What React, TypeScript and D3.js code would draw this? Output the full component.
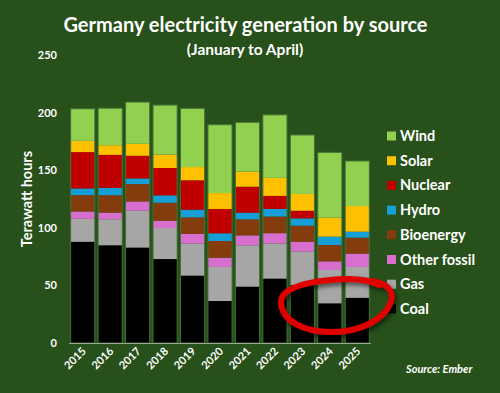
import React from 'react';
import * as d3 from 'd3';

const years = ['2015', '2016', '2017', '2018', '2019', '2020', '2021', '2022', '2023', '2024', '2025'];

// TWh, January to April, bottom of stack first
const coal = [88, 85, 83, 73, 58.6, 36.5, 49, 56, 50.5, 34.5, 39.3];
const gas = [20, 22.6, 32, 27, 27.8, 29.6, 35.9, 30.5, 28.9, 29, 26.8];
const otherFossil = [6.4, 5.8, 8.1, 6.4, 8.4, 8.1, 8.7, 9, 8.7, 7.5, 11.6];
const bioenergy = [14.2, 15.1, 15.1, 15.6, 14.5, 14.5, 13.9, 14.5, 13.9, 14.2, 13.9];
const hydro = [5.8, 6.4, 4.9, 6.4, 6.6, 6.7, 5.8, 6.6, 6.4, 7.3, 5.2];
const nuclear = [31.6, 28.7, 19.7, 23.8, 25.6, 21.1, 22.6, 11.3, 6.6, 0, 0];
const solar = [9.8, 8.4, 10.4, 11.6, 11.5, 13.9, 13.1, 15.7, 14.6, 16.5, 22.3];
const wind = [27.9, 32.2, 36.3, 43.1, 51.1, 59.4, 42.9, 54.8, 51.3, 56.8, 39.2];

const sources = ['Coal', 'Gas', 'Other fossil', 'Bioenergy', 'Hydro', 'Nuclear', 'Solar', 'Wind'];
const colors = ['#000000', '#a6a6a6', '#d86fcf', '#843c0c', '#159fd6', '#c00000', '#ffc000', '#92d050'];
const yTicks = [0, 50, 100, 150, 200, 250];

const W = 500;
const H = 393;
const bg = '#27501a';
const font = 'Lato, "Open Sans", sans-serif';

export default function App() {
  const series = [coal, gas, otherFossil, bioenergy, hydro, nuclear, solar, wind];
  const table = years.map((year, i) => {
    const row: Record<string, any> = { year };
    sources.forEach((s, k) => (row[s] = series[k][i]));
    return row;
  });
  const stacked = d3.stack().keys(sources)(table as any);

  const x = d3.scaleBand().domain(years).range([69, 371]).paddingInner(0.12).paddingOuter(0.06);
  const y = d3.scaleLinear().domain([0, 250]).range([343, 55.5]);
  const color = d3.scaleOrdinal<string, string>().domain(sources).range(colors);

  const legendKeys = sources.slice().reverse();

  return (
    <svg width={W} height={H} style={{ position: 'absolute', left: 0, top: 0, display: 'block' }} fontFamily={font}>
      <defs>
        <filter id="shadow" x="-20%" y="-20%" width="140%" height="140%">
          <feDropShadow dx="2" dy="3" stdDeviation="2" floodColor="#000" floodOpacity="0.55" />
        </filter>
      </defs>
      <rect width={W} height={H} fill={bg} />

      <text x={245.5} y={32} textAnchor="middle" fill="#fff" fontSize={20} fontWeight="bold">
        Germany electricity generation by source
      </text>
      <text x={245} y={55} textAnchor="middle" fill="#fff" fontSize={15.5} fontWeight="bold">
        (January to April)
      </text>

      {yTicks.map((t) => (
        <text key={t} x={57} y={y(t)} dy="0.35em" textAnchor="end" fill="#fff" fontSize={11} fontWeight="bold">
          {t}
        </text>
      ))}
      <text
        transform={`translate(32,199) rotate(-90)`}
        textAnchor="middle"
        fill="#fff"
        fontSize={14.5}
        fontWeight="bold"
      >
        Terawatt hours
      </text>

      {stacked.map((layer) => (
        <g key={layer.key} fill={color(layer.key)}>
          {layer.map((d: any, i: number) =>
            d[1] - d[0] > 0 ? (
              <rect
                key={i}
                x={x(years[i])}
                y={y(d[1])}
                width={x.bandwidth()}
                height={y(d[0]) - y(d[1])}
              />
            ) : null
          )}
        </g>
      ))}
      {table.map((row, i) => {
        const top = stacked[stacked.length - 1][i][1];
        return (
          <rect
            key={row.year}
            x={x(row.year)}
            y={y(top)}
            width={x.bandwidth()}
            height={y(0) - y(top)}
            fill="none"
            stroke="#417236"
            strokeWidth={1}
          />
        );
      })}
      <line x1={69} x2={371} y1={343.5} y2={343.5} stroke="#9aa596" strokeWidth={1} />

      {years.map((yr) => (
        <text
          key={yr}
          transform={`translate(${(x(yr) as number) + x.bandwidth() / 2 + 4},352) rotate(-45)`}
          textAnchor="end"
          fill="#fff"
          fontSize={11}
          fontWeight="bold"
        >
          {yr}
        </text>
      ))}

      {legendKeys.map((k, i) => {
        const cy = 136 + i * 24.7;
        return (
          <g key={k}>
            <rect x={387} y={cy - 4.5} width={9} height={9} fill={color(k)} />
            <text x={400} y={cy} dy="0.35em" fill="#fff" fontSize={14.5} fontWeight="bold">
              {k}
            </text>
          </g>
        );
      })}

      <text x={406} y={373} fill="#fff" fontSize={11} fontWeight="bold" fontStyle="italic">
        Source: Ember
      </text>

      <path
        d="M 370 281 C 386 282, 396 291, 390 304 C 383 320, 360 332, 332 332 C 302 332, 282 320, 281 303 C 280 290, 300 283, 330 280 C 350 278, 368 279, 379 285"
        fill="none"
        stroke="#e00000"
        strokeWidth={6}
        strokeLinecap="round"
        filter="url(#shadow)"
      />
    </svg>
  );
}
